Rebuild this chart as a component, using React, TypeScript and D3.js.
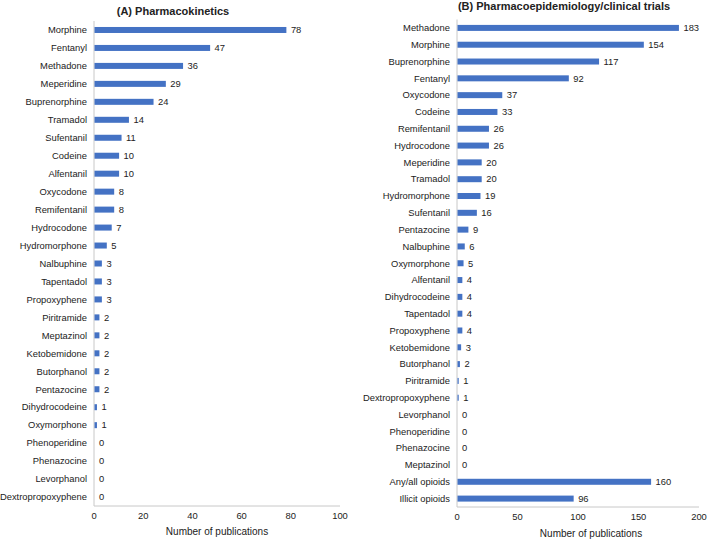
import * as d3 from "d3"

const pkDrugs = [
  "Morphine", "Fentanyl", "Methadone", "Meperidine", "Buprenorphine", "Tramadol",
  "Sufentanil", "Codeine", "Alfentanil", "Oxycodone", "Remifentanil", "Hydrocodone",
  "Hydromorphone", "Nalbuphine", "Tapentadol", "Propoxyphene", "Piritramide",
  "Meptazinol", "Ketobemidone", "Butorphanol", "Pentazocine", "Dihydrocodeine",
  "Oxymorphone", "Phenoperidine", "Phenazocine", "Levorphanol", "Dextropropoxyphene",
]
const pkCounts = [78, 47, 36, 29, 24, 14, 11, 10, 10, 8, 8, 7, 5, 3, 3, 3, 2, 2, 2, 2, 2, 1, 1, 0, 0, 0, 0]
const pkTicks = [0, 20, 40, 60, 80, 100]

const peDrugs = [
  "Methadone", "Morphine", "Buprenorphine", "Fentanyl", "Oxycodone", "Codeine",
  "Remifentanil", "Hydrocodone", "Meperidine", "Tramadol", "Hydromorphone",
  "Sufentanil", "Pentazocine", "Nalbuphine", "Oxymorphone", "Alfentanil",
  "Dihydrocodeine", "Tapentadol", "Propoxyphene", "Ketobemidone", "Butorphanol",
  "Piritramide", "Dextropropoxyphene", "Levorphanol", "Phenoperidine", "Phenazocine",
  "Meptazinol", "Any/all opioids", "Illicit opioids",
]
const peCounts = [183, 154, 117, 92, 37, 33, 26, 26, 20, 20, 19, 16, 9, 6, 5, 4, 4, 4, 4, 3, 2, 1, 1, 0, 0, 0, 0, 160, 96]
const peTicks = [0, 50, 100, 150, 200]

const FONT = "'Liberation Sans', Arial, Helvetica, sans-serif"
const BAR = "#4472C4"
const TEXT = "#222"
const AXIS = "#c8c8c8"

type PanelProps = {
  title: string
  titleX: number
  titleY: number
  names: string[]
  values: number[]
  ticks: number[]
  xRange: [number, number]
  yRange: [number, number]
  tickY: number
  axisTitleX: number
  axisTitleY: number
}

function Panel({ title, titleX, titleY, names, values, ticks, xRange, yRange, tickY, axisTitleX, axisTitleY }: PanelProps) {
  const x = d3.scaleLinear([ticks[0], ticks[ticks.length - 1]], xRange)
  const y = d3.scaleBand(names, yRange)
  const bh = 6
  return (
    <g fontFamily={FONT}>
      <text x={titleX} y={titleY} textAnchor="middle" fontWeight="bold" fontSize={11} fill={TEXT}>
        {title}
      </text>
      <line x1={x(0)} x2={x(0)} y1={yRange[0]} y2={yRange[1]} stroke={AXIS} />
      <line x1={x(0)} x2={xRange[1]} y1={yRange[1]} y2={yRange[1]} stroke={AXIS} />
      {names.map((n, i) => {
        const cy = y(n)! + y.bandwidth() / 2
        return (
          <g key={n}>
            <text x={x(0) - 7} y={cy} dy="0.35em" textAnchor="end" fontSize={9.4} fill={TEXT}>
              {n}
            </text>
            {values[i] > 0 && (
              <rect x={x(0) + 0.5} y={cy - bh / 2} width={x(values[i]) - x(0)} height={bh} fill={BAR} />
            )}
            <text x={x(values[i]) + 5} y={cy} dy="0.35em" fontSize={9.4} fill={TEXT}>
              {values[i]}
            </text>
          </g>
        )
      })}
      {ticks.map((t) => (
        <text key={t} x={x(t)} y={tickY} dy="0.35em" textAnchor="middle" fontSize={9.4} fill={TEXT}>
          {t}
        </text>
      ))}
      <text x={axisTitleX} y={axisTitleY} dy="0.35em" textAnchor="middle" fontSize={10} fill={TEXT}>
        Number of publications
      </text>
    </g>
  )
}

export default function App() {
  return (
    <div style={{ position: "absolute", left: 0, top: 0 }}>
      <svg width={709} height={540} style={{ display: "block", background: "#fff" }}>
        <Panel
          title="(A)  Pharmacokinetics"
          titleX={173}
          titleY={15}
          names={pkDrugs}
          values={pkCounts}
          ticks={pkTicks}
          xRange={[94, 340]}
          yRange={[21, 506]}
          tickY={516}
          axisTitleX={217}
          axisTitleY={531}
        />
        <Panel
          title="(B) Pharmacoepidemiology/clinical trials"
          titleX={564}
          titleY={10}
          names={peDrugs}
          values={peCounts}
          ticks={peTicks}
          xRange={[457, 699]}
          yRange={[19.5, 507]}
          tickY={517}
          axisTitleX={591}
          axisTitleY={533}
        />
      </svg>
    </div>
  )
}
